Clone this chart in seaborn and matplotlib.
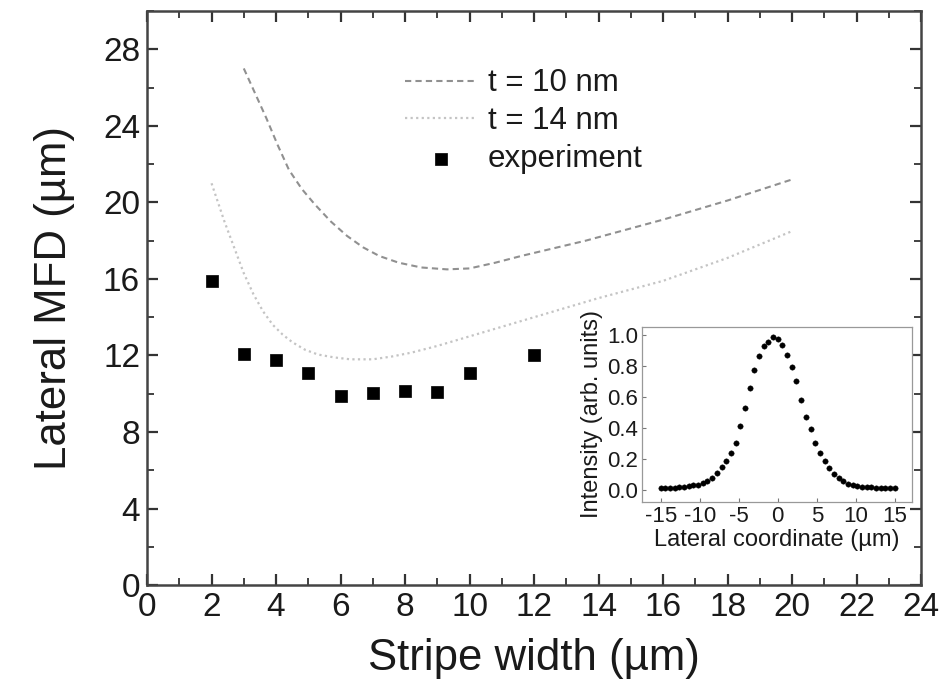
import matplotlib
matplotlib.use("Agg")
import matplotlib.pyplot as plt
from matplotlib.ticker import MultipleLocator
import seaborn as sns
import pandas as pd

# Measured mode field diameter versus stripe width
exp_width = [2, 3, 4, 5, 6, 7, 8, 9, 10, 12]
exp_mfd = [15.9, 12.1, 11.75, 11.1, 9.9, 10.05, 10.15, 10.1, 11.1, 12.0]

# Simulated MFD for two film thicknesses
t10_width = [3.0, 3.35, 3.7, 4.05, 4.4, 4.8, 5.2, 5.7, 6.2, 6.7, 7.2, 7.8, 8.5, 9.3, 10.0, 10.8, 11.6, 12.6, 13.6, 14.8, 16.0, 17.0, 18.0, 19.0, 20.0]
t10_mfd = [27.0, 25.7, 24.4, 23.0, 21.7, 20.7, 19.9, 19.0, 18.25, 17.65, 17.2, 16.85, 16.6, 16.5, 16.55, 16.85, 17.2, 17.6, 18.0, 18.55, 19.1, 19.6, 20.1, 20.65, 21.2]

t14_width = [2.0, 2.2, 2.4, 2.6, 2.8, 3.0, 3.3, 3.6, 3.9, 4.2, 4.5, 4.9, 5.3, 5.8, 6.3, 7.0, 7.6, 8.2, 9.0, 10.0, 11.0, 12.0, 13.0, 14.0, 15.0, 16.0, 17.0, 18.0, 19.0, 20.0]
t14_mfd = [21.0, 20.0, 19.0, 18.1, 17.2, 16.3, 15.2, 14.3, 13.6, 13.1, 12.7, 12.3, 12.05, 11.9, 11.8, 11.8, 11.95, 12.15, 12.5, 13.0, 13.5, 14.0, 14.5, 15.0, 15.45, 15.9, 16.5, 17.1, 17.8, 18.5]

# Lateral intensity profile of the guided mode (inset)
profile_x = [-15.0, -14.4, -13.8, -13.2, -12.6, -12.0, -11.4, -10.8, -10.2, -9.6,
             -9.0, -8.4, -7.8, -7.2, -6.6, -6.0, -5.4, -4.8, -4.2, -3.6,
             -3.0, -2.4, -1.8, -1.2, -0.6, 0.0, 0.6, 1.2, 1.8, 2.4,
             3.0, 3.6, 4.2, 4.8, 5.4, 6.0, 6.6, 7.2, 7.8, 8.4,
             9.0, 9.6, 10.2, 10.8, 11.4, 12.0, 12.6, 13.2, 13.8, 14.4, 15.0]
profile_i = [0.01, 0.01, 0.015, 0.015, 0.02, 0.02, 0.025, 0.03, 0.035, 0.045,
             0.06, 0.08, 0.11, 0.15, 0.19, 0.24, 0.30, 0.41, 0.53, 0.66,
             0.77, 0.86, 0.925, 0.955, 0.985, 0.97, 0.935, 0.87, 0.79, 0.70,
             0.58, 0.47, 0.39, 0.30, 0.24, 0.19, 0.14, 0.105, 0.08, 0.055,
             0.04, 0.03, 0.025, 0.02, 0.02, 0.02, 0.015, 0.015, 0.01, 0.01, 0.01]

x_ticks = list(range(0, 25, 2))
y_ticks = list(range(0, 29, 4))
inset_x_ticks = [-15, -10, -5, 0, 5, 10, 15]
inset_y_ticks = [0.0, 0.2, 0.4, 0.6, 0.8, 1.0]

sns.set_style("ticks")
plt.rcParams["font.family"] = ["Liberation Sans", "DejaVu Sans"]
plt.rcParams["axes.unicode_minus"] = False

fig = plt.figure(figsize=(9.51, 6.90), dpi=100)
ax = fig.add_axes([0.1546, 0.152, 0.814, 0.832])

df_exp = pd.DataFrame({"w": exp_width, "mfd": exp_mfd})
df_t10 = pd.DataFrame({"w": t10_width, "mfd": t10_mfd})
df_t14 = pd.DataFrame({"w": t14_width, "mfd": t14_mfd})

sns.lineplot(data=df_t10, x="w", y="mfd", ax=ax, color="#909090", lw=1.5,
             linestyle=(0, (3, 2)), label="t = 10 nm", sort=False)
sns.lineplot(data=df_t14, x="w", y="mfd", ax=ax, color="#c4c4c4", lw=1.6,
             linestyle=(0, (1, 1.5)), label="t = 14 nm", sort=False)
sns.scatterplot(data=df_exp, x="w", y="mfd", ax=ax, marker="s", s=80,
                color="black", edgecolor="black", linewidth=0.5,
                label="experiment", zorder=5)

ax.set_xlim(0, 24)
ax.set_ylim(0, 30)
ax.set_xticks(x_ticks)
ax.set_yticks(y_ticks)
ax.xaxis.set_minor_locator(MultipleLocator(1))
ax.yaxis.set_minor_locator(MultipleLocator(2))
ax.tick_params(which="both", direction="in", top=True, right=True,
               colors="#333333", labelcolor="#1a1a1a")
ax.tick_params(which="major", length=8, width=1.6, labelsize=24, pad=5)
ax.tick_params(which="minor", length=5, width=1.3)
for sp in ax.spines.values():
    sp.set_linewidth(1.8)
    sp.set_color("#444444")
ax.set_xlabel("Stripe width (µm)", fontsize=31.5, color="#1a1a1a", labelpad=11)
ax.set_ylabel("Lateral MFD (µm)", fontsize=31.5, color="#1a1a1a", labelpad=20)

leg = ax.legend(loc="upper left", bbox_to_anchor=(0.333, 0.9),
                frameon=False, fontsize=22.5, handlelength=2.3,
                handletextpad=0.35, labelspacing=0.25, borderpad=0,
                borderaxespad=0)
for t in leg.get_texts():
    t.set_color("#1a1a1a")

# Inset: lateral intensity profile
axi = fig.add_axes([0.675, 0.2725, 0.284, 0.2536])
df_prof = pd.DataFrame({"x": profile_x, "i": profile_i})
sns.scatterplot(data=df_prof, x="x", y="i", ax=axi, marker="o", s=15,
                color="black", edgecolor="black", linewidth=0.3)
axi.set_xlim(-17.4, 17.2)
axi.set_ylim(-0.077, 1.05)
axi.set_xticks(inset_x_ticks)
axi.set_yticks(inset_y_ticks)
axi.set_yticklabels([f"{v:.1f}" for v in inset_y_ticks])
axi.tick_params(which="major", direction="in", length=3, width=0.8,
                labelsize=16, pad=3, colors="#777777", labelcolor="#1a1a1a")
for sp in axi.spines.values():
    sp.set_linewidth(0.9)
    sp.set_color("#999999")
axi.set_xlabel("Lateral coordinate (µm)", fontsize=17, color="#1a1a1a",
               labelpad=1)
axi.set_ylabel("Intensity (arb. units)", fontsize=17, color="#1a1a1a",
               labelpad=3)

fig.savefig("out.png", dpi=100)
